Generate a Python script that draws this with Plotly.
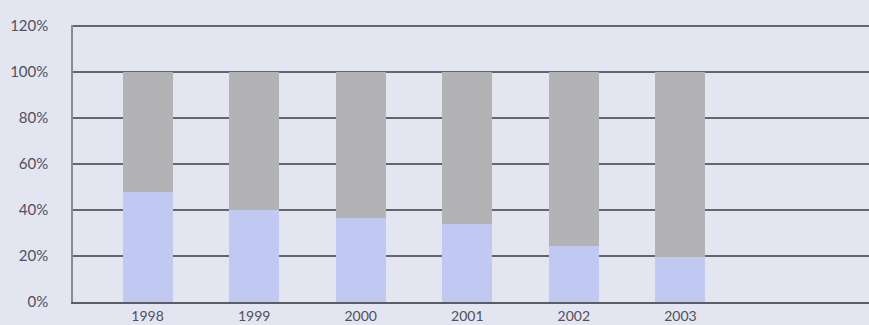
import plotly.graph_objects as go

years = ["1998", "1999", "2000", "2001", "2002", "2003"]
lower_share = [48, 40, 36.5, 34, 24.5, 19.5]
upper_share = [100 - v for v in lower_share]
y_ticks = [0, 20, 40, 60, 80, 100, 120]
y_labels = ["0%", "20%", "40%", "60%", "80%", "100%", "120%"]

bg = "#e3e5f1"
text_col = "#50505e"

fig = go.Figure()
fig.add_trace(go.Bar(x=years, y=lower_share, marker=dict(color="#c1c9f3", line=dict(width=0)),
                     width=0.47, showlegend=False))
fig.add_trace(go.Bar(x=years, y=upper_share, marker=dict(color="#b3b3b6", line=dict(width=0)),
                     width=0.47, showlegend=False))

fig.update_layout(
    barmode="stack",
    width=869, height=325,
    margin=dict(l=73, r=0, t=25, b=23),
    paper_bgcolor=bg, plot_bgcolor=bg,
    font=dict(family="Lato, 'Open Sans', sans-serif", size=15, color=text_col),
)
fig.update_xaxes(
    type="category", range=[-0.7, 6.77],
    showgrid=False, showline=True, linecolor="#5c5c68", linewidth=1.5,
    ticks="", ticklabelstandoff=0, tickfont=dict(size=14, color=text_col),
)
fig.update_yaxes(
    range=[0, 120.45], tickvals=y_ticks, ticktext=y_labels,
    showgrid=True, gridcolor="#65656f", gridwidth=1.5,
    showline=True, linecolor="#8a8a96", linewidth=1.5,
    zeroline=False, ticks="", ticklabelstandoff=20,
    tickfont=dict(size=15, color=text_col),
)

fig.write_html("out.html")
